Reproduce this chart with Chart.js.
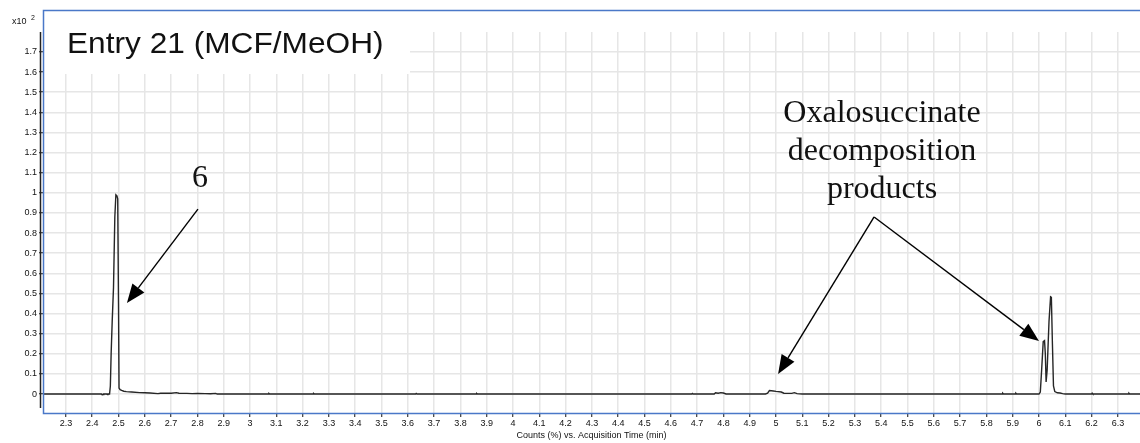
<!DOCTYPE html>
<html>
<head>
<meta charset="utf-8">
<title>Entry 21 (MCF/MeOH)</title>
<script src="https://cdn.jsdelivr.net/npm/chart.js@4.4.1/dist/chart.umd.min.js"></script>
<style>
  html, body { margin: 0; padding: 0; background: #ffffff; }
  #wrap { width: 1140px; height: 443px; }
</style>
</head>
<body>
<div id="wrap"><canvas id="chrom" width="1140" height="443"></canvas></div>
<script>
// Acquisition time (min) and counts (x10^2 %) of the chromatogram trace
const time = [
  2.213, 2.300, 2.400, 2.435, 2.437, 2.442, 2.444, 2.455, 2.458, 2.460,
  2.466, 2.469, 2.472, 2.476, 2.481, 2.486, 2.490, 2.494, 2.497, 2.500,
  2.502, 2.506, 2.512, 2.520, 2.530, 2.550, 2.580, 2.600, 2.620, 2.650,
  2.660, 2.700, 2.720, 2.730, 2.760, 2.780, 2.800, 2.830, 2.850, 2.870,
  2.875, 3.070, 3.072, 3.075, 3.240, 3.242, 3.245, 3.630, 3.632, 3.635,
  3.860, 3.862, 3.865, 4.680, 4.682, 4.685, 4.765, 4.770, 4.780, 4.790,
  4.800, 4.810, 4.960, 4.968, 4.975, 4.990, 5.000, 5.020, 5.030, 5.060,
  5.070, 5.080, 5.100, 5.860, 5.862, 5.865, 5.910, 5.912, 5.915, 6.000,
  6.005, 6.010, 6.016, 6.021, 6.024, 6.027, 6.031, 6.038, 6.044, 6.047,
  6.051, 6.055, 6.060, 6.070, 6.080, 6.090, 6.100, 6.200, 6.202, 6.205,
  6.340, 6.342, 6.345, 6.384
];
const counts = [
  0.000, 0.000, 0.000, 0.000, -0.002, -0.002, 0.000, 0.000, -0.002, 0.000,
  0.000, 0.040, 0.200, 0.360, 0.530, 0.880, 0.990, 0.985, 0.970, 0.450,
  0.030, 0.022, 0.018, 0.014, 0.012, 0.010, 0.007, 0.006, 0.005, 0.002,
  0.004, 0.004, 0.007, 0.004, 0.003, 0.002, 0.003, 0.002, 0.001, 0.003,
  0.000, 0.000, 0.003, 0.000, 0.000, 0.003, 0.000, 0.000, 0.003, 0.000,
  0.000, 0.003, 0.000, 0.000, 0.003, 0.000, 0.000, 0.006, 0.004, 0.007,
  0.005, 0.000, 0.000, 0.004, 0.017, 0.015, 0.013, 0.010, 0.004, 0.003,
  0.007, 0.002, 0.000, 0.000, 0.004, 0.000, 0.000, 0.004, 0.000, 0.000,
  0.010, 0.120, 0.260, 0.265, 0.200, 0.060, 0.120, 0.360, 0.483, 0.480,
  0.250, 0.040, 0.012, 0.006, 0.005, 0.002, 0.000, 0.000, 0.004, 0.000,
  0.000, 0.004, 0.000, 0.000
];

// Axis ranges and tick spacing
const xRange = [2.2129, 6.384];
const yRange = [-0.0943, 1.799];
const tickStep = 0.1;

// Callout labels: text lines, anchor (time, counts)
const peakLabels = [
  { lines: ['6'], at: [2.810, 1.029] },
  { lines: ['Oxalosuccinate', 'decomposition', 'products'], at: [5.403, 1.352] }
];
// Arrows: [fromTime, fromCounts, toTime, toCounts]
const arrows = [
  [2.802, 0.919, 2.532, 0.452],
  [5.373, 0.880, 5.008, 0.099],
  [5.373, 0.880, 6.000, 0.263]
];

const fmt = v => String(Number(v.toFixed(1)));

const decor = {
  id: 'decor',
  afterDraw(chart) {
    const { ctx, chartArea: a, scales: { x, y } } = chart;
    ctx.save();

    // white box behind the sample title
    ctx.fillStyle = '#ffffff';
    ctx.fillRect(44, 11, 366, 63);
    ctx.fillStyle = '#111';
    ctx.font = '30px "Liberation Sans", Arial, sans-serif';
    ctx.textAlign = 'left';
    ctx.textBaseline = 'alphabetic';
    ctx.save();
    ctx.translate(67, 53);
    ctx.scale(1.055, 1);
    ctx.fillText('Entry 21 (MCF/MeOH)', 0, 0);
    ctx.restore();

    // frame
    ctx.strokeStyle = '#4a78c8';
    ctx.lineWidth = 1.5;
    ctx.beginPath();
    ctx.moveTo(a.right, 10.5);
    ctx.lineTo(43.5, 10.5);
    ctx.lineTo(43.5, 413.5);
    ctx.lineTo(a.right, 413.5);
    ctx.stroke();

    // y axis line
    ctx.strokeStyle = '#222';
    ctx.lineWidth = 1.5;
    ctx.beginPath();
    ctx.moveTo(40.5, 32);
    ctx.lineTo(40.5, 408);
    ctx.stroke();

    // y multiplier
    ctx.fillStyle = '#111';
    ctx.font = '9px "Liberation Sans", Arial, sans-serif';
    ctx.fillText('x10', 12, 24);
    ctx.font = '7px "Liberation Sans", Arial, sans-serif';
    ctx.fillText('2', 31, 20);

    // callout text
    ctx.font = '32px "Liberation Serif", "Times New Roman", serif';
    ctx.textAlign = 'center';
    peakLabels.forEach(l => {
      const px = x.getPixelForValue(l.at[0]);
      const py = y.getPixelForValue(l.at[1]);
      l.lines.forEach((t, i) => ctx.fillText(t, px, py + i * 38));
    });

    // arrows
    ctx.strokeStyle = '#000';
    ctx.fillStyle = '#000';
    ctx.lineWidth = 1.4;
    arrows.forEach(([t0, c0, t1, c1]) => {
      const x0 = x.getPixelForValue(t0), y0 = y.getPixelForValue(c0);
      const x1 = x.getPixelForValue(t1), y1 = y.getPixelForValue(c1);
      const ang = Math.atan2(y1 - y0, x1 - x0);
      const len = 19, half = 7.5;
      const bx = x1 - len * Math.cos(ang), by = y1 - len * Math.sin(ang);
      ctx.beginPath();
      ctx.moveTo(x0, y0);
      ctx.lineTo(bx, by);
      ctx.stroke();
      ctx.beginPath();
      ctx.moveTo(x1, y1);
      ctx.lineTo(bx + half * Math.sin(ang), by - half * Math.cos(ang));
      ctx.lineTo(bx - half * Math.sin(ang), by + half * Math.cos(ang));
      ctx.closePath();
      ctx.fill();
    });
    ctx.restore();
  }
};

new Chart(document.getElementById('chrom'), {
  type: 'line',
  data: {
    datasets: [{
      data: time.map((t, i) => ({ x: t, y: counts[i] })),
      borderColor: '#262626',
      borderWidth: 1.4,
      pointRadius: 0,
      tension: 0,
      fill: false
    }]
  },
  options: {
    responsive: false,
    animation: false,
    devicePixelRatio: 1,
    layout: { padding: { top: 32, left: 0, right: 0, bottom: 0 } },
    plugins: { legend: { display: false }, tooltip: { enabled: false }, title: { display: false } },
    scales: {
      x: {
        type: 'linear',
        min: xRange[0],
        max: xRange[1],
        afterFit: s => { s.height = 30; },
        border: { display: false },
        grid: { color: '#e6e6e6', lineWidth: 1.5, tickColor: '#111', tickLength: 4, tickWidth: 1 },
        ticks: {
          stepSize: tickStep,
          includeBounds: false,
          autoSkip: false,
          maxRotation: 0,
          padding: 1,
          color: '#111',
          font: { family: '"Liberation Sans", Arial, sans-serif', size: 9 },
          callback: v => fmt(v)
        },
        title: {
          display: true,
          text: 'Counts (%) vs. Acquisition Time (min)',
          color: '#111',
          font: { family: '"Liberation Sans", Arial, sans-serif', size: 9 },
          padding: { top: 0, bottom: 2 }
        }
      },
      y: {
        type: 'linear',
        min: yRange[0],
        max: yRange[1],
        afterFit: s => { s.width = 43; },
        border: { display: false },
        grid: { color: '#e6e6e6', lineWidth: 1.5, tickColor: '#111', tickLength: 4, tickWidth: 1 },
        ticks: {
          stepSize: tickStep,
          includeBounds: false,
          autoSkip: false,
          padding: 2,
          color: '#111',
          font: { family: '"Liberation Sans", Arial, sans-serif', size: 9 },
          callback: v => fmt(v)
        }
      }
    }
  },
  plugins: [decor]
});
</script>
</body>
</html>
